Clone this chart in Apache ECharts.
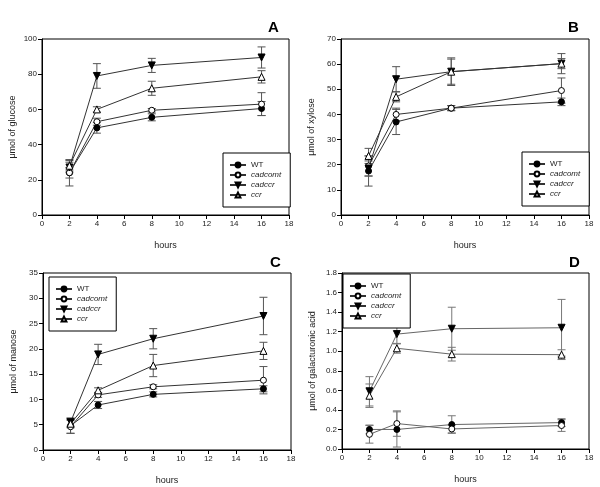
<!DOCTYPE html>
<html>
<head>
<meta charset="utf-8">
<script src="https://cdn.jsdelivr.net/npm/echarts@6/dist/echarts.min.js"></script>
<style>
html, body { margin: 0; padding: 0; background: #fff; }
#main { width: 600px; height: 487px; }
</style>
</head>
<body>
<div id="main"></div>
<script>
// x values (hours) shared by all panels
var hours = [2, 4, 8, 16];
var names = ['WT', 'cadcomt', 'cadccr', 'ccr'];

// A - glucose
var glcWT = [24, 49.5, 55.5, 60.5];
var glcWTErr = [3, 3, 2, 4];
var glcCadcomt = [24, 53, 59.5, 63];
var glcCadcomtErr = [7.5, 2, 1, 6.5];
var glcCadccr = [27, 79, 85, 89.5];
var glcCadccrErr = [3, 7, 4, 6];
var glcCcr = [28, 60, 72, 78.5];
var glcCcrErr = [3, 1.5, 4, 3.5];

// B - xylose
var xylWT = [17.5, 37, 42.5, 45];
var xylWTErr = [6, 5, 1, 1.5];
var xylCadcomt = [19.5, 40, 42.5, 49.5];
var xylCadcomtErr = [4, 2.5, 1, 5];
var xylCadccr = [18.5, 54, 57, 60.2];
var xylCadccrErr = [3, 5, 5.5, 4];
var xylCcr = [23.5, 47, 57, 60.2];
var xylCcrErr = [3, 2, 5, 2];

// C - mannose
var manWT = [4.8, 8.9, 11, 12.1];
var manWTErr = [1.5, 0.7, 0.5, 0.6];
var manCadcomt = [4.6, 10.9, 12.5, 13.8];
var manCadcomtErr = [1.3, 0.5, 0.4, 2.7];
var manCadccr = [5.5, 18.9, 22, 26.5];
var manCadccrErr = [0.8, 2, 2, 3.7];
var manCcr = [5.2, 11.8, 16.7, 19.6];
var manCcrErr = [0.8, 0.5, 2.2, 1.7];

// D - galacturonic acid
var galWT = [0.2, 0.2, 0.25, 0.27];
var galWTErr = [0.045, 0.18, 0.09, 0.04];
var galCadcomt = [0.15, 0.26, 0.205, 0.24];
var galCadcomtErr = [0.09, 0.13, 0.04, 0.06];
var galCadccr = [0.59, 1.175, 1.23, 1.24];
var galCadccrErr = [0.15, 0.1, 0.22, 0.29];
var galCcr = [0.545, 1.03, 0.97, 0.965];
var galCcrErr = [0.12, 0.05, 0.07, 0.05];

var yMaxs = [100, 70, 35, 1.8];
var yIntervals = [20, 10, 5, 0.2];
var yNames = ['\u03bcmol of glucose', '\u03bcmol of xylose', '\u03bcmol of manose', '\u03bcmol of galacturonic acid'];
var letters = ['A', 'B', 'C', 'D'];

var panels = [
    {vals: [glcWT, glcCadcomt, glcCadccr, glcCcr], errs: [glcWTErr, glcCadcomtErr, glcCadccrErr, glcCcrErr],
     grid: {left: 42, top: 39, width: 247, height: 176}, legend: {left: 223, top: 153}, letter: {left: 263, top: 15},
     line: '#333', err: '#555', dec: 0},
    {vals: [xylWT, xylCadcomt, xylCadccr, xylCcr], errs: [xylWTErr, xylCadcomtErr, xylCadccrErr, xylCcrErr],
     grid: {left: 341, top: 39, width: 248, height: 176}, legend: {left: 522, top: 152}, letter: {left: 563, top: 15},
     line: '#333', err: '#555', dec: 0},
    {vals: [manWT, manCadcomt, manCadccr, manCcr], errs: [manWTErr, manCadcomtErr, manCadccrErr, manCcrErr],
     grid: {left: 43, top: 273, width: 248, height: 177}, legend: {left: 49, top: 277}, letter: {left: 265, top: 250},
     line: '#333', err: '#555', dec: 0},
    {vals: [galWT, galCadcomt, galCadccr, galCcr], errs: [galWTErr, galCadcomtErr, galCadccrErr, galCcrErr],
     grid: {left: 342, top: 273, width: 247, height: 176}, legend: {left: 343, top: 274}, letter: {left: 564, top: 250},
     line: '#666', err: '#777', dec: 1}
];

// filled / open markers: circle, open circle, down triangle, open up triangle
var symbols = ['circle', 'circle', 'triangle', 'triangle'];
var fills = ['#000', '#fff', '#000', '#fff'];
var rotates = [0, 0, 180, 0];
var font = 'Liberation Sans, Arial, sans-serif';

var myChart = echarts.init(document.getElementById('main'));

var grids = [], xAxes = [], yAxes = [], legends = [], titles = [], series = [];

function makeErr(color) {
    return function (params, api) {
        var x = api.value(0);
        var top = api.coord([x, api.value(2)]);
        var bot = api.coord([x, api.value(1)]);
        var w = 4;
        var st = {stroke: color, lineWidth: 1};
        return {type: 'group', children: [
            {type: 'line', shape: {x1: top[0], y1: top[1], x2: bot[0], y2: bot[1]}, style: st},
            {type: 'line', shape: {x1: top[0] - w, y1: top[1], x2: top[0] + w, y2: top[1]}, style: st},
            {type: 'line', shape: {x1: bot[0] - w, y1: bot[1], x2: bot[0] + w, y2: bot[1]}, style: st}
        ]};
    };
}

for (var p = 0; p < panels.length; p++) {
    var pn = panels[p];
    grids.push({left: pn.grid.left, top: pn.grid.top, width: pn.grid.width, height: pn.grid.height,
        show: true, borderColor: '#000', borderWidth: 1, backgroundColor: 'transparent'});
    xAxes.push({
        type: 'value', gridIndex: p, min: 0, max: 18, interval: 2,
        name: 'hours', nameLocation: 'middle', nameGap: 26,
        nameTextStyle: {fontSize: 9, color: '#222', fontFamily: font},
        axisLine: {lineStyle: {color: '#000', width: 1}},
        axisTick: {show: true, length: 4, lineStyle: {color: '#000'}},
        axisLabel: {fontSize: 8, color: '#222', margin: 5, fontFamily: font},
        splitLine: {show: false}
    });
    (function (dec) {
        yAxes.push({
            type: 'value', gridIndex: p, min: 0, max: yMaxs[p], interval: yIntervals[p],
            name: yNames[p], nameLocation: 'middle', nameGap: 25,
            nameTextStyle: {fontSize: 9, color: '#222', fontFamily: font},
            axisLine: {show: true, lineStyle: {color: '#000', width: 1}},
            axisTick: {show: true, length: 4, lineStyle: {color: '#000'}},
            axisLabel: {fontSize: 8, color: '#222', margin: 5, fontFamily: font,
                formatter: function (v) { return dec ? v.toFixed(dec) : String(v); }},
            splitLine: {show: false}
        });
    })(pn.dec);
    titles.push({text: letters[p], left: pn.letter.left, top: pn.letter.top,
        textStyle: {fontSize: 15, fontWeight: 'bold', color: '#000', fontFamily: font}});
    legends.push({
        data: names, orient: 'vertical', left: pn.legend.left, top: pn.legend.top,
        itemWidth: 16, itemHeight: 6, itemGap: 0,
        padding: [7, 9, 7, 6],
        borderColor: '#000', borderWidth: 1, backgroundColor: '#fff',
        selectedMode: false,
        textStyle: {fontSize: 8, lineHeight: 10, color: '#222', fontFamily: font,
            rich: {it: {fontStyle: 'italic', fontSize: 8, lineHeight: 10, color: '#222', fontFamily: font}}},
        formatter: function (n) { return n === 'WT' ? n : '{it|' + n + '}'; }
    });
    for (var s = 0; s < 4; s++) {
        var errData = [];
        for (var i = 0; i < hours.length; i++) {
            var v = pn.vals[s][i], e = pn.errs[s][i];
            errData.push([hours[i], v - e, v + e]);
        }
        series.push({
            type: 'custom', name: 'err' + p + s, xAxisIndex: p, yAxisIndex: p,
            renderItem: makeErr(pn.err), encode: {x: 0, y: [1, 2]}, data: errData,
            z: 1, silent: true
        });
    }
    for (var s2 = 0; s2 < 4; s2++) {
        var ld = [];
        for (var j = 0; j < hours.length; j++) ld.push([hours[j], pn.vals[s2][j]]);
        series.push({
            type: 'line', name: names[s2], xAxisIndex: p, yAxisIndex: p, data: ld,
            symbol: symbols[s2], symbolRotate: rotates[s2], symbolSize: s2 >= 2 ? 7 : 6,
            showAllSymbol: true,
            lineStyle: {color: pn.line, width: 1},
            itemStyle: {color: fills[s2], borderColor: '#000', borderWidth: 1},
            emphasis: {disabled: true},
            z: 2, animation: false
        });
    }
}

option = {
    backgroundColor: '#fff',
    animation: false,
    title: titles,
    grid: grids,
    xAxis: xAxes,
    yAxis: yAxes,
    legend: legends,
    series: series
};

myChart.setOption(option);
</script>
</body>
</html>
